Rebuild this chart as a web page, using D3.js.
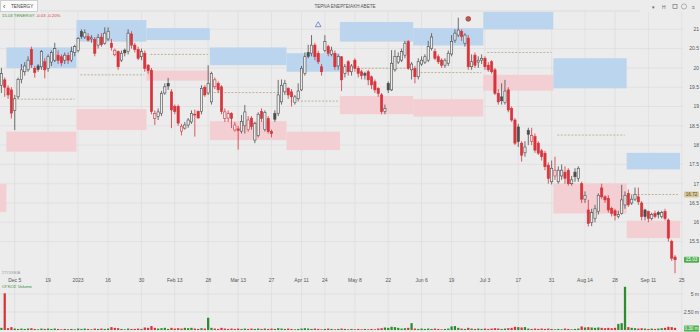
<!DOCTYPE html>
<html>
<head>
<meta charset="utf-8">
<script src="https://cdn.jsdelivr.net/npm/d3@7"></script>
<style>
	body { margin: 0; background: #ececec; font-family: "Liberation Sans", "DejaVu Sans", sans-serif; }
	svg { display: block; }
</style>
</head>
<body>
<svg id="chart" width="700" height="332"></svg>
<script>
const WIDTH = 700,
	  HEIGHT = 332;

// trading calendar (Athens exchange)
const START_DATE = "2022-11-29",
	  CAL_END = "2023-09-29",
	  LAST_DATE = "2023-09-22";
const holidays = ["2022-12-26", "2023-01-06", "2023-02-27", "2023-04-07", "2023-04-10",
	"2023-04-14", "2023-04-17", "2023-05-01", "2023-06-05", "2023-08-15"];

// daily candles
const opens = [19.55,19.69,19.48,19.43,18.9,19.25,19.7,19.9,19.95,20.48,19.99,20.05,20.03,20.16,19.99,20.15,20.2,20.33,20.29,20.2,
	20.32,20.2,20.4,20.45,20.94,20.8,20.81,20.75,20.74,20.59,20.8,20.64,20.75,20.64,20.34,20.42,20.2,20.46,20.42,20.88,
	20.59,20.48,20.29,20.38,20.07,19.94,18.69,18.74,18.82,19.35,19.6,19.38,19.0,19.0,18.36,18.44,18.52,18.6,18.8,18.87,
	18.87,19.5,19.35,19.12,19.51,19.6,19.51,18.69,18.7,18.82,18.39,18.42,18.36,18.5,18.4,18.7,18.13,18.25,18.87,18.4,
	18.69,18.35,18.82,18.82,19.12,19.38,19.47,19.38,19.1,19.2,19.43,19.86,20.4,20.38,20.59,20.38,20.03,20.45,20.55,20.35,
	20.38,20.05,20.29,19.86,20.16,19.9,20.2,19.99,19.9,19.85,19.9,19.77,19.64,19.47,19.3,18.87,19.6,19.43,19.95,20.15,
	20.2,20.33,20.68,19.95,19.99,19.77,20.1,20.15,20.2,20.5,20.42,20.29,20.2,20.07,20.12,20.36,20.72,20.85,20.94,20.64,
	20.77,20.03,20.33,20.15,20.2,20.25,20.07,20.16,19.95,19.34,19.25,19.1,19.43,18.95,18.65,18.47,18.05,17.8,18.38,18.1,
	18.22,18.05,17.85,17.79,17.48,17.05,17.2,17.05,17.2,17.3,17.35,17.0,17.3,17.14,17.0,16.6,16.32,15.99,16.1,16.28,
	16.89,16.66,16.62,16.36,16.3,16.15,16.23,16.45,16.75,16.5,16.6,16.66,16.5,16.32,16.28,16.1,16.23,16.25,16.15,16.28,
	16.06,15.5,15.1];
const highs = [20.0,19.75,19.55,19.5,19.3,19.75,20.1,20.15,20.3,20.55,20.05,20.1,20.46,20.25,20.35,20.45,20.65,20.45,20.35,20.4,
	20.4,20.55,20.6,20.8,21.0,21.0,20.9,20.85,20.8,20.88,20.9,21.05,21.05,20.75,20.5,20.45,20.45,20.5,21.0,20.95,
	20.65,20.55,20.5,20.45,20.1,20.0,18.9,18.95,19.4,19.6,19.74,19.45,19.05,19.05,18.55,18.6,18.7,18.9,18.92,18.9,
	19.55,19.55,20.07,19.9,19.75,19.65,19.55,18.95,18.9,18.85,18.6,18.5,18.78,19.04,18.75,18.75,18.6,18.85,18.95,18.9,
	18.75,18.4,18.9,19.69,19.7,19.69,19.5,19.45,19.3,19.6,20.05,20.4,20.6,20.85,20.65,20.45,20.1,20.85,20.6,20.55,
	20.45,20.35,20.3,20.1,20.2,20.1,20.25,20.05,19.95,19.9,19.95,19.8,19.7,19.5,19.35,19.05,19.65,20.46,20.46,20.4,
	20.5,20.7,20.72,20.15,20.05,20.25,20.3,20.35,20.7,20.9,20.5,20.35,20.25,20.25,20.45,20.85,21.0,21.3,21.0,20.9,
	20.85,20.35,20.4,20.3,20.35,20.3,20.15,20.2,20.0,19.45,19.6,19.69,19.5,19.0,18.7,18.55,18.1,18.1,18.45,18.45,
	18.3,18.1,17.9,17.85,17.55,17.6,17.7,17.45,17.5,17.45,17.4,17.2,17.4,17.45,17.05,16.8,16.58,16.35,16.45,16.75,
	17.0,16.7,16.7,16.4,16.35,16.3,16.97,16.8,16.85,16.7,16.9,16.9,16.55,16.35,16.3,16.25,16.3,16.3,16.3,16.35,
	16.1,15.55,15.15];
const lows = [19.35,19.25,19.2,18.69,18.39,19.2,19.6,19.8,19.9,20.0,19.75,19.9,19.95,19.73,19.9,20.05,20.15,20.1,20.05,20.1,
	20.1,20.15,20.3,20.4,20.75,20.75,20.68,20.65,20.3,20.5,20.55,20.6,20.7,20.45,20.3,19.95,20.15,20.3,20.35,20.5,
	20.4,20.2,20.2,19.9,19.85,18.8,18.52,18.65,18.75,19.3,19.43,18.44,18.8,18.5,18.25,18.4,18.45,18.55,18.22,18.72,
	18.8,19.25,19.3,19.05,19.45,19.35,18.8,18.6,18.6,18.44,18.35,17.88,18.3,18.3,18.35,18.4,18.05,18.2,18.6,18.35,
	18.3,18.2,18.6,18.75,19.05,19.3,19.2,19.0,19.05,19.15,19.4,19.8,20.25,20.3,20.2,20.1,19.8,20.4,20.3,20.3,
	19.95,19.95,19.4,19.75,19.8,19.8,19.9,19.75,19.7,19.7,19.55,19.45,19.35,19.25,18.8,18.8,19.35,19.4,19.9,20.1,
	20.15,20.25,19.95,19.7,19.6,19.7,20.05,20.1,20.15,20.45,20.2,20.1,20.0,20.0,20.05,20.3,20.65,20.8,20.7,20.55,
	19.95,19.95,20.0,20.0,20.1,19.95,19.9,19.85,19.3,19.05,19.05,19.05,18.85,18.6,18.0,17.95,17.57,17.7,18.0,18.0,
	17.8,17.75,17.6,17.35,17.0,16.98,17.1,17.0,17.1,17.0,16.95,16.95,17.05,17.05,16.5,16.5,15.89,15.9,16.0,16.2,
	16.6,16.5,16.25,16.15,16.05,16.1,16.2,16.35,16.4,16.45,16.55,16.45,16.05,16.05,16.0,16.05,16.1,16.1,16.1,16.05,
	15.5,15.0,14.68];
const closes = [19.85,19.5,19.3,18.83,19.2,19.7,19.95,20.05,20.2,20.08,19.88,19.96,20.42,19.95,20.29,20.4,20.5,20.19,20.13,20.33,
	20.2,20.42,20.55,20.76,20.81,20.91,20.72,20.78,20.38,20.79,20.6,20.9,20.95,20.53,20.46,20.03,20.38,20.39,20.9,20.59,
	20.48,20.25,20.42,19.99,19.93,18.87,18.82,18.86,19.34,19.51,19.53,18.91,18.87,18.57,18.49,18.52,18.65,18.82,18.78,18.7,
	19.47,19.3,19.6,19.86,19.69,19.43,18.87,18.86,18.82,18.69,18.52,18.38,18.61,18.86,18.65,18.48,18.56,18.8,18.69,18.85,
	18.35,18.3,18.67,19.3,19.55,19.6,19.3,19.25,19.25,19.4,19.99,20.29,20.3,20.59,20.29,20.16,19.9,20.68,20.38,20.46,
	20.03,20.3,19.69,20.03,19.9,20.05,19.99,19.86,19.8,19.81,19.69,19.56,19.43,19.34,18.87,18.95,19.43,20.12,20.3,20.3,
	20.42,20.64,19.99,20.1,19.77,20.16,20.2,20.29,20.55,20.8,20.25,20.16,20.07,20.2,20.38,20.68,20.9,20.98,20.81,20.85,
	20.03,20.16,20.07,20.2,20.25,20.03,19.95,19.9,19.34,19.12,19.15,19.4,18.91,18.65,18.05,18.09,17.74,17.95,18.28,18.25,
	17.87,17.79,17.7,17.44,17.14,17.4,17.35,17.35,17.35,17.14,17.0,17.1,17.18,17.4,16.6,16.7,15.97,16.25,16.35,16.7,
	16.66,16.58,16.32,16.23,16.18,16.2,16.58,16.7,16.45,16.6,16.72,16.53,16.15,16.15,16.1,16.2,16.15,16.2,16.25,16.1,
	15.59,15.07,15.03];
// volume, millions of shares
const volumes = [0.3,5.1,0.25,0.4,0.2,0.15,0.2,0.15,0.2,0.25,0.15,0.1,0.2,0.15,0.2,0.15,0.2,0.15,0.1,0.15,
	0.1,0.15,0.1,0.2,0.15,0.2,0.15,0.1,0.2,0.15,0.2,0.15,0.2,0.4,0.3,0.25,0.15,0.1,0.2,0.15,
	0.15,0.2,0.15,0.35,0.3,0.55,0.3,0.2,0.25,0.3,0.15,0.3,0.2,0.25,0.2,0.3,0.25,0.3,0.2,0.15,
	0.25,0.2,1.7,0.3,0.2,0.15,0.3,0.2,0.15,0.2,0.15,0.2,0.15,0.2,0.15,0.2,0.15,0.2,0.15,0.2,
	0.15,0.2,0.15,0.25,0.2,0.15,0.2,0.15,0.1,0.15,0.2,0.25,0.2,0.15,0.2,0.15,0.1,0.15,0.2,0.15,
	0.1,0.15,0.2,0.15,0.1,0.15,0.1,0.15,0.1,0.15,0.1,0.15,0.1,0.2,0.25,0.35,0.3,0.45,0.4,0.3,
	0.2,0.25,0.3,0.95,0.2,0.15,0.2,0.15,0.2,0.15,0.2,0.15,0.1,0.15,0.2,0.5,0.55,0.3,0.2,0.15,
	0.3,0.2,0.15,0.2,0.15,0.2,0.15,0.2,0.25,0.2,0.15,0.2,0.25,0.3,0.45,0.4,0.35,0.4,0.2,0.15,
	0.2,0.15,0.2,0.15,0.2,0.15,0.1,0.15,0.1,0.2,0.15,0.1,0.15,0.2,0.5,0.35,0.4,0.35,0.3,0.35,
	0.3,0.25,0.3,0.25,0.3,0.85,0.95,6.0,0.4,0.3,0.25,0.2,0.25,0.2,0.15,0.2,0.15,0.2,0.25,0.3,
	0.45,0.4,0.3];

// monthly zones
const zoneMonths = ["2022-11","2022-12","2023-01","2023-02","2023-03","2023-04","2023-05","2023-06","2023-07","2023-08","2023-09"];
const upperTop =    [null, 20.53, 21.24, 21.03, 20.53, 20.38, 21.19, 21.03, 21.46, 20.25, 17.80];
const upperBottom = [null, 19.99, 20.68, 20.72, 20.07, 19.90, 20.68, 20.58, 21.00, 19.47, 17.37];
const lowerTop =    [16.99, 18.35, 18.93, 19.93, 18.62, 18.35, 19.27, 19.19, 19.82, 17.01, 16.04];
const lowerBottom = [16.27, 17.83, 18.39, 19.67, 18.13, 17.87, 18.80, 18.74, 19.41, 16.23, 15.59];
const pivots =      [null, 19.19, 19.82, 20.35, 19.36, 19.14, 19.99, 19.88, 20.40, 18.26, 16.72];

// axis ticks
const xTickDates = ["2022-12-05","2022-12-19","2023-01-02","2023-01-16","2023-01-30","2023-02-13","2023-02-28",
	"2023-03-13","2023-03-27","2023-04-11","2023-04-24","2023-05-08","2023-05-22","2023-06-06","2023-06-19",
	"2023-07-03","2023-07-17","2023-07-31","2023-08-14","2023-08-28","2023-09-11","2023-09-25"];
const xTickLabels = ["Dec 5","19","2023","16","30","Feb 13","28","Mar 13","27","Apr 11","24","May 8","22",
	"Jun 6","19","Jul 3","17","31","Aug 14","28","Sep 11","25"];
const priceTicks = [15.5, 16, 16.5, 17, 17.5, 18, 18.5, 19, 19.5, 20, 20.5, 21];
const volumeTicks = [2.5, 5];
const volumeTickLabels = ["2.50 m", "5 m"];

// markers
const markerDates = ["2023-04-20", "2023-06-26"];
const markerPrices = [21.11, 21.27];
const markerKinds = ["up", "down"];

// build trading days list
function tradingDays(from, to) {
	let out = [],
		d = new Date(from + "T00:00:00Z"),
		end = new Date(to + "T00:00:00Z");

	while (d <= end) {
		let s = d.toISOString().slice(0, 10),
			wd = d.getUTCDay();
		if (wd != 0 && wd != 6 && !holidays.includes(s)) {
			out.push(s);
		}
		d.setUTCDate(d.getUTCDate() + 1);
	}
	return out;
}

const calendar = tradingDays(START_DATE, CAL_END);
const candles = opens.map((o, i) => ({
	date: calendar[i], i: i, o: o, h: highs[i], l: lows[i], c: closes[i], v: volumes[i],
	prev: i > 0 ? closes[i - 1] : o
}));

const PLOT_RIGHT = 683,
	  PRICE_TOP = 12,
	  PRICE_BOTTOM = 276;

let x = d3.scaleLinear().domain([0, 204]).range([1.4, 681.7]);
let y = d3.scaleLinear().domain([15.5, 21]).range([241.6, 29.3]);
let yv = d3.scaleLinear().domain([0, 5]).range([330, 294]);
let step = x(1) - x(0);

const BG = "#ececec",
	  GRID = "#dddddd",
	  RED = "#d8343c",
	  DARK = "#4d4d4d",
	  GREEN = "#2e8b2e";

let svg = d3.select("#chart");

svg.append("rect").attr("width", WIDTH).attr("height", HEIGHT).attr("fill", BG);

svg.append("defs").append("clipPath").attr("id", "price-clip")
	.append("rect").attr("x", 0).attr("y", PRICE_TOP).attr("width", PLOT_RIGHT).attr("height", PRICE_BOTTOM - PRICE_TOP);

// grid
let grid = svg.append("g").attr("stroke", GRID).attr("stroke-width", 0.7);
xTickDates.forEach(d => {
	let xi = x(calendar.indexOf(d));
	grid.append("line").attr("x1", xi).attr("x2", xi).attr("y1", PRICE_TOP).attr("y2", HEIGHT);
});
priceTicks.forEach(p => {
	grid.append("line").attr("x1", 0).attr("x2", PLOT_RIGHT).attr("y1", y(p)).attr("y2", y(p));
});
volumeTicks.forEach(v => {
	grid.append("line").attr("x1", 0).attr("x2", PLOT_RIGHT).attr("y1", yv(v)).attr("y2", yv(v));
});

let plot = svg.append("g").attr("clip-path", "url(#price-clip)");

// monthly zones
zoneMonths.forEach((m, k) => {
	let idx = calendar.map((d, i) => [d, i]).filter(p => p[0].startsWith(m) && p[0] <= LAST_DATE).map(p => p[1]);
	let x0 = x(idx[0] - 0.5),
		x1 = x(idx[idx.length - 1] + 0.5);

	if (upperTop[k] != null) {
		plot.append("rect").attr("x", x0).attr("width", x1 - x0)
			.attr("y", y(upperTop[k])).attr("height", y(upperBottom[k]) - y(upperTop[k]))
			.attr("fill", "#bcd5ee");
	}
	plot.append("rect").attr("x", x0).attr("width", x1 - x0)
		.attr("y", y(lowerTop[k])).attr("height", y(lowerBottom[k]) - y(lowerTop[k]))
		.attr("fill", "#f3ced2");
	if (pivots[k] != null) {
		plot.append("line").attr("x1", x0 + 4).attr("x2", x1 - 2)
			.attr("y1", y(pivots[k])).attr("y2", y(pivots[k]))
			.attr("stroke", "#b3a57e").attr("stroke-width", 0.8).attr("stroke-dasharray", "2,1.5");
	}
});

// candles
let bodyW = step * 0.68;
let cg = plot.selectAll(".candle").data(candles).enter().append("g").attr("class", "candle");

cg.append("line")
	.attr("x1", d => x(d.i)).attr("x2", d => x(d.i))
	.attr("y1", d => y(d.h)).attr("y2", d => y(d.l))
	.attr("stroke", d => d.c >= d.prev ? DARK : RED)
	.attr("stroke-width", 0.8);

cg.append("rect")
	.attr("x", d => x(d.i) - bodyW / 2)
	.attr("width", bodyW)
	.attr("y", d => y(Math.max(d.o, d.c)))
	.attr("height", d => Math.max(0.8, Math.abs(y(d.o) - y(d.c))))
	.attr("fill", d => d.c > d.o ? BG : (d.c >= d.prev ? DARK : RED))
	.attr("stroke", d => d.c >= d.prev ? DARK : RED)
	.attr("stroke-width", 0.6);

// markers
markerDates.forEach((d, k) => {
	let mx = x(calendar.indexOf(d)),
		my = y(markerPrices[k]);
	if (markerKinds[k] == "up") {
		svg.append("path").attr("d", d3.symbol(d3.symbolTriangle, 14)())
			.attr("transform", "translate(" + mx + "," + my + ")")
			.attr("fill", "none").attr("stroke", "#4a6fd0").attr("stroke-width", 0.7);
	}
	else {
		svg.append("circle").attr("cx", mx).attr("cy", my).attr("r", 2.4)
			.attr("fill", "#c9564a").attr("stroke", "#6a3a30").attr("stroke-width", 0.6);
	}
});

// volume bars
svg.selectAll(".vol").data(candles).enter().append("rect")
	.attr("class", "vol")
	.attr("x", d => x(d.i) - bodyW / 2)
	.attr("width", bodyW)
	.attr("y", d => yv(d.v))
	.attr("height", d => yv(0) - yv(d.v))
	.attr("fill", d => d.c >= d.prev ? GREEN : RED);

// price axis labels
let txt = svg.append("g").attr("font-size", 5).attr("fill", "#555");
priceTicks.forEach(p => {
	txt.append("text").attr("x", 699).attr("y", y(p) + 1.8).attr("text-anchor", "end").text(p);
});
volumeTicks.forEach((v, k) => {
	txt.append("text").attr("x", 699).attr("y", yv(v) + 1.8).attr("text-anchor", "end").text(volumeTickLabels[k]);
});
xTickDates.forEach((d, k) => {
	txt.append("text").attr("x", x(calendar.indexOf(d))).attr("y", 282).attr("text-anchor", "middle").text(xTickLabels[k]);
});

// value tags on the axis
function tag(yy, label, fill, color) {
	svg.append("rect").attr("x", 684).attr("y", yy - 3).attr("width", 15).attr("height", 6).attr("rx", 1)
		.attr("fill", fill);
	svg.append("text").attr("x", 691.5).attr("y", yy + 1.7).attr("text-anchor", "middle")
		.attr("font-size", 4.6).attr("fill", color).text(label);
}
tag(y(pivots[pivots.length - 1]), pivots[pivots.length - 1].toFixed(2), "#d8c99a", "#5a4a20");
tag(y(closes[closes.length - 1]), closes[closes.length - 1].toFixed(2), "#4caf50", "#fff");
tag(yv(0) - 1.5, volumes[volumes.length - 1].toFixed(2) + " m", "#4caf50", "#fff");

// header
svg.append("line").attr("x1", 40).attr("x2", 640).attr("y1", 11).attr("y2", 11).attr("stroke", "#d6d6d6").attr("stroke-width", 0.7);
svg.append("rect").attr("x", 0.5).attr("y", 0.5).attr("width", 37).attr("height", 11).attr("fill", "#fafafa").attr("stroke", "#cfcfcf");
svg.append("text").attr("x", 3).attr("y", 8.5).attr("font-size", 7).attr("fill", "#444").text("‹");
svg.append("text").attr("x", 11).attr("y", 8).attr("font-size", 4.6).attr("fill", "#444").text("TENERGY");
svg.append("text").attr("x", 345).attr("y", 8).attr("text-anchor", "middle").attr("font-size", 4.6).attr("fill", "#555").text("ΤΕΡΝΑ ΕΝΕΡΓΕΙΑΚΗ ΑΒΕΤΕ");

let info = svg.append("text").attr("x", 2).attr("y", 16.5).attr("font-size", 4.3);
info.append("tspan").attr("fill", "#3a8a3a").text("15.03 TENERGY ");
info.append("tspan").attr("fill", "#d8343c").text("-0.03 -0.20%");

svg.append("text").attr("x", 2).attr("y", 274).attr("font-size", 4).attr("fill", "#999").text("ΣΤΟΙΧΕΙΑ");
svg.append("text").attr("x", 2).attr("y", 287.5).attr("font-size", 4.3).attr("fill", "#3a8a3a").text("ΟΓΚΟΣ Volume");

// toolbar icons top right
let tb = svg.append("g").attr("fill", "#666").attr("font-size", 5);
tb.append("text").attr("x", 652).attr("y", 9).text("▾");
tb.append("text").attr("x", 662).attr("y", 9).text("H");
tb.append("rect").attr("x", 673).attr("y", 4.5).attr("width", 4).attr("height", 4).attr("fill", "none").attr("stroke", "#666").attr("stroke-width", 0.6);
tb.append("circle").attr("cx", 684).attr("cy", 6.5).attr("r", 2.6).attr("fill", "none").attr("stroke", "#888").attr("stroke-width", 0.6);
tb.append("text").attr("x", 692).attr("y", 9).text("≡");
</script>
</body>
</html>
